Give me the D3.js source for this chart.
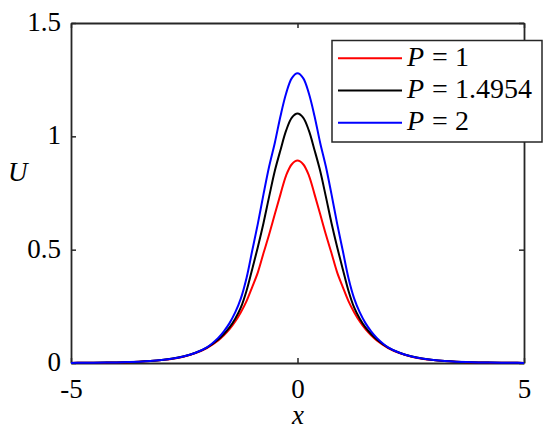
<!DOCTYPE html>
<html>
<head>
<meta charset="utf-8">
<script src="https://cdn.jsdelivr.net/npm/d3@7"></script>
<style>
  html, body { margin: 0; padding: 0; background: #fff; }
  svg { display: block; }
  text { font-family: "Liberation Serif", "Times New Roman", serif; fill: #000; }
</style>
</head>
<body>
<svg id="chart" width="550" height="429"></svg>
<script>
// ---- data ----
const xValues = [-5,-4.75,-4.5,-4.25,-4,-3.75,-3.5,-3.25,-3,-2.75,-2.5,-2.25,-2,
                 -1.75,-1.625,-1.5,-1.375,-1.25,-1.125,-1,-0.875,-0.75,-0.625,-0.5,-0.375,-0.25,-0.125,
                 0,
                 0.125,0.25,0.375,0.5,0.625,0.75,0.875,1,1.125,1.25,1.375,1.5,1.625,1.75,
                 2,2.25,2.5,2.75,3,3.25,3.5,3.75,4,4.25,4.5,4.75,5];
const uP1 = [0.0005,0.0007,0.001,0.0016,0.0024,0.0037,0.0056,0.0085,0.0127,0.019,0.029,0.044,0.066,
             0.099,0.122,0.149,0.183,0.224,0.273,0.335,0.40,0.485,0.568,0.657,0.745,0.828,0.877,
             0.893,
             0.877,0.828,0.745,0.657,0.568,0.485,0.40,0.335,0.273,0.224,0.183,0.149,0.122,0.099,
             0.066,0.044,0.029,0.019,0.0127,0.0085,0.0056,0.0037,0.0024,0.0016,0.001,0.0007,0.0005];
const uP14954 = [0.0005,0.0007,0.0011,0.0017,0.0025,0.0038,0.0058,0.0087,0.013,0.020,0.030,0.045,0.068,
                 0.104,0.128,0.157,0.195,0.245,0.319,0.414,0.512,0.618,0.735,0.848,0.940,1.026,1.083,
                 1.101,
                 1.083,1.026,0.940,0.848,0.735,0.618,0.512,0.414,0.319,0.245,0.195,0.157,0.128,0.104,
                 0.068,0.045,0.030,0.020,0.013,0.0087,0.0058,0.0038,0.0025,0.0017,0.0011,0.0007,0.0005];
const uP2 = [0.0005,0.0007,0.0011,0.0017,0.0026,0.0039,0.006,0.009,0.0135,0.020,0.030,0.045,0.069,
             0.111,0.140,0.176,0.223,0.285,0.375,0.495,0.615,0.745,0.868,0.972,1.09,1.19,1.257,
             1.278,
             1.257,1.19,1.09,0.972,0.868,0.745,0.615,0.495,0.375,0.285,0.223,0.176,0.140,0.111,
             0.069,0.045,0.030,0.020,0.0135,0.009,0.006,0.0039,0.0026,0.0017,0.0011,0.0007,0.0005];
const seriesNames = ["1", "1.4954", "2"];
const seriesColors = ["#ff0000", "#000000", "#0000ff"];
const xTicks = [-5, 0, 5];
const xTickLabels = ["-5", "0", "5"];
const yTicks = [0, 0.5, 1, 1.5];
const yTickLabels = ["0", "0.5", "1", "1.5"];

// ---- layout ----
const svg = d3.select("#chart");
const L = 71, R = 524, T = 23, B = 363;
const x = d3.scaleLinear().domain([-5, 5]).range([L, R]);
const y = d3.scaleLinear().domain([0, 1.5]).range([B, T]);
const axisColor = "#262626";
const fs = 27;

function styleAxis(g) {
  g.selectAll("path.domain").attr("stroke", axisColor).attr("stroke-width", 1.8);
  g.selectAll(".tick line").attr("stroke", axisColor).attr("stroke-width", 1.5);
  g.selectAll(".tick text").attr("font-size", fs).attr("font-family", "Liberation Serif").attr("fill", "#000");
}

// bottom
const gB = svg.append("g").attr("transform", `translate(0,${B})`)
  .call(d3.axisBottom(x).tickValues(xTicks).tickSizeInner(-5).tickSizeOuter(0).tickPadding(16)
        .tickFormat((d, i) => xTickLabels[i]));
styleAxis(gB);
// top
const gT = svg.append("g").attr("transform", `translate(0,${T})`)
  .call(d3.axisTop(x).tickValues(xTicks).tickSizeInner(-5).tickSizeOuter(0).tickFormat(""));
styleAxis(gT);
// left
const gL = svg.append("g").attr("transform", `translate(${L},0)`)
  .call(d3.axisLeft(y).tickValues(yTicks).tickSizeInner(-5).tickSizeOuter(0).tickPadding(10)
        .tickFormat((d, i) => yTickLabels[i]));
styleAxis(gL);
gL.selectAll(".tick text").attr("dy", "0.28em");
// right
const gR = svg.append("g").attr("transform", `translate(${R},0)`)
  .call(d3.axisRight(y).tickValues(yTicks).tickSizeInner(-5).tickSizeOuter(0).tickFormat(""));
styleAxis(gR);

// axis labels
svg.append("text").attr("x", 298).attr("y", 424).attr("text-anchor", "middle")
  .attr("font-size", fs).attr("font-style", "italic").text("x");
svg.append("text").attr("x", 8).attr("y", 181).attr("text-anchor", "start")
  .attr("font-size", fs).attr("font-style", "italic").text("U");

// curves
const allSeries = [uP1, uP14954, uP2];
const line = d3.line().x((d, i) => x(xValues[i])).y(d => y(d)).curve(d3.curveCatmullRom.alpha(0.5));
allSeries.forEach((vals, k) => {
  svg.append("path").datum(vals)
    .attr("d", line)
    .attr("fill", "none")
    .attr("stroke", seriesColors[k])
    .attr("stroke-width", 2)
    .attr("stroke-linejoin", "round");
});

// legend
const lg = svg.append("g");
lg.append("rect").attr("x", 332).attr("y", 40.5).attr("width", 210).attr("height", 101.5)
  .attr("fill", "#fff").attr("stroke", axisColor).attr("stroke-width", 1.5);
seriesNames.forEach((name, k) => {
  const cy = 58.3 + k * 32.2;
  lg.append("line").attr("x1", 338).attr("x2", 402).attr("y1", cy).attr("y2", cy)
    .attr("stroke", seriesColors[k]).attr("stroke-width", 2);
  const t = lg.append("text").attr("y", cy + 7.5).attr("font-size", 28);
  t.append("tspan").attr("x", 407).attr("font-style", "italic").text("P");
  t.append("tspan").attr("x", 432).text("=");
  t.append("tspan").attr("x", 455).text(name);
});
</script>
</body>
</html>
